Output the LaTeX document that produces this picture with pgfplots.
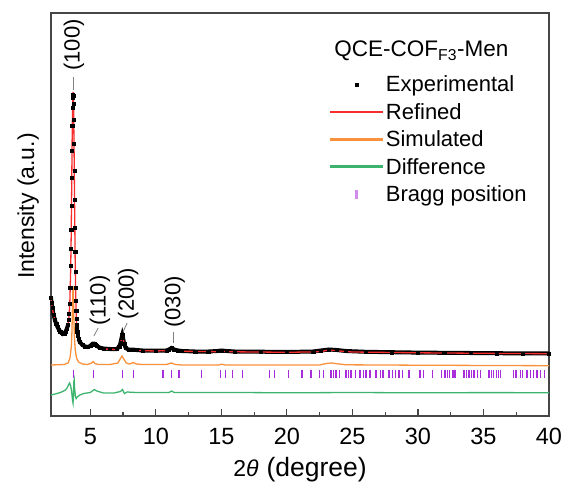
\documentclass[border=0pt]{standalone}
\usepackage{pgfplots}
\usepackage{pgfplotstable}
\usepackage{fontspec}
\setmainfont{Liberation Sans}
\pgfplotsset{compat=1.18}
\definecolor{framec}{RGB}{70,70,70}
\definecolor{refc}{RGB}{245,45,45}
\definecolor{simc}{RGB}{250,145,60}
\definecolor{difc}{RGB}{60,180,110}
\definecolor{bragc}{RGB}{170,45,220}

\pgfplotstableread{
x y
2.00 118
2.05 113
2.10 108
2.20 101
2.30 96
2.40 92
2.50 89
2.60 86.5
2.70 84.5
2.80 83
2.90 82
3.00 82.5
3.10 84
3.20 87
3.30 91
}\expA

\pgfplotstableread{
x y
2.00 118
2.05 113
2.10 108
2.20 101
2.30 96
2.40 92
2.50 89
2.60 86.5
2.70 84.5
2.80 83
2.90 82
3.00 82.5
3.10 84
3.20 87
3.30 91
3.34 96
3.38 102
3.42 112
3.46 128
3.50 150
3.52 167
3.54 186
3.56 210
3.58 238
3.60 265
3.62 290
3.64 308
3.66 318
3.68 321
3.70 320
3.72 312
3.74 296
3.76 272
3.78 245
3.80 216
3.82 188
3.84 164
3.86 144
3.88 128
3.90 115
3.92 105
3.94 97
3.96 91
3.98 87
4.00 84
4.05 80
4.10 77
4.20 74
4.40 71
4.60 69.5
4.80 69
5.00 70
5.10 71.5
5.20 72.5
5.30 72.5
5.40 71.5
5.50 70
5.70 68.5
6.00 67.5
6.50 67
7.00 67
7.20 69
7.30 73
7.38 78
7.44 81
7.50 78
7.58 72
7.70 68
7.90 66.5
8.20 66.5
8.50 66
9.00 65.5
10.00 65.5
10.80 65.5
11.00 66.5
11.20 68
11.40 66.5
11.70 65.5
12.00 65
13.00 64.5
14.00 64.5
14.70 65
15.00 65.5
15.40 65
16.00 64.5
18.00 64.3
20.00 64
22.00 64.5
22.60 65.5
23.20 66.5
23.80 66
24.50 65
26.00 64.2
28.00 63.8
30.00 63.4
32.00 63.2
34.00 63
36.00 62.8
38.00 62.6
40.00 62.5
}\expAll

\pgfplotstableread{
x y
4.10 77
4.20 74
4.40 71
4.60 69.5
4.80 69
5.00 70
5.10 71.5
5.20 72.5
5.30 72.5
5.40 71.5
5.50 70
5.70 68.5
6.00 67.5
6.50 67
7.00 67
7.20 69
7.30 73
7.38 78
7.44 81
7.50 78
7.58 72
7.70 68
7.90 66.5
8.20 66.5
8.50 66
9.00 65.5
10.00 65.5
10.80 65.5
11.00 66.5
11.20 68
11.40 66.5
11.70 65.5
12.00 65
13.00 64.5
14.00 64.5
14.70 65
15.00 65.5
15.40 65
16.00 64.5
18.00 64.3
20.00 64
22.00 64.5
22.60 65.5
23.20 66.5
23.80 66
24.50 65
26.00 64.2
28.00 63.8
30.00 63.4
32.00 63.2
34.00 63
36.00 62.8
38.00 62.6
40.00 62.5
}\expB

\pgfplotstableread{
x y
2.00 117
2.10 108
2.20 101
2.30 96
2.40 92
2.50 89
2.60 86.5
2.70 84.5
2.80 83
2.90 82
3.00 82.5
3.10 84
3.20 87
3.30 91
3.38 100
3.44 115
3.50 145
3.54 180
3.58 230
3.62 285
3.66 318
3.69 324
3.72 312
3.76 268
3.80 212
3.84 160
3.88 124
3.92 103
3.96 90
4.00 83
4.10 77
4.20 74
4.40 70.5
4.60 69
4.80 68.5
5.00 69.5
5.20 72
5.30 72
5.50 69.5
5.70 68
6.00 67
7.00 66.5
7.20 68.5
7.30 72.5
7.42 80
7.50 77
7.60 71
7.75 67
8.00 66
8.30 66.3
8.60 65.5
10.00 65
10.90 65.5
11.20 67.5
11.50 65.5
12.00 64.7
14.80 64.3
15.00 65
15.30 64.3
20.00 63.7
22.50 64.2
23.20 66
24.00 65
25.00 64
30.00 63.2
35.00 62.7
40.00 62.3
}\refined

\pgfplotstableread{
x y
2.00 51
3.00 51.5
3.30 53
3.45 58
3.55 69
3.60 85
3.64 110
3.68 130
3.71 122
3.74 100
3.78 80
3.85 66
3.95 58
4.10 54
4.40 52
4.80 51.5
5.10 53
5.22 54.5
5.35 52.5
5.60 51.5
6.50 51.5
7.10 53
7.30 57.5
7.42 60
7.55 57
7.75 53
8.00 52
8.30 53.5
8.50 52
9.00 51.5
10.80 51.5
11.18 53
11.50 51.5
12.00 51
14.80 51
15.00 51.8
15.30 51
22.50 51
23.00 52.5
23.40 53
23.80 52.3
24.50 51.2
30.00 50.8
40.00 50.3
}\simulated

\pgfplotstableread{
x y
2.00 21
2.30 22
2.60 23
2.90 24.5
3.10 26
3.25 28.5
3.35 31.5
3.42 33
3.50 30
3.58 24
3.64 16
3.68 13
3.71 20
3.74 34
3.77 36
3.80 28
3.86 20
3.92 17.5
4.00 19
4.20 21
4.50 22.5
5.00 23.5
5.30 26.5
5.50 25
6.00 23
6.80 23
7.30 24.5
7.45 26.5
7.60 22.5
7.80 24
8.50 23.5
11.00 23.5
11.20 25
11.40 23.5
15.00 23.6
20.00 23.2
25.00 23.5
30.00 23.2
35.00 23.4
40.00 23.3
}\difference

\pgfplotstableread{
x y
3.70 42
5.22 42
7.43 42
8.32 42
10.55 42
11.18 42
11.77 42
13.47 42
14.91 42
15.32 42
15.83 42
16.63 42
18.67 42
19.05 42
20.14 42
21.15 42
21.84 42
22.47 42
22.78 42
23.36 42
23.56 42
23.74 42
23.99 42
24.50 42
24.70 42
24.88 42
25.26 42
25.57 42
25.82 42
26.03 42
26.33 42
26.79 42
27.14 42
27.34 42
27.80 42
28.05 42
28.31 42
28.56 42
28.81 42
29.32 42
30.15 42
30.40 42
31.09 42
31.81 42
32.06 42
32.24 42
32.42 42
32.62 42
32.75 42
32.88 42
33.51 42
33.69 42
33.90 42
34.10 42
34.27 42
34.52 42
34.78 42
35.41 42
35.62 42
35.79 42
35.97 42
36.17 42
36.30 42
37.31 42
37.49 42
37.82 42
38.00 42
38.33 42
38.58 42
38.83 42
39.08 42
39.34 42
39.67 42
}\bragg

\begin{document}
\begin{tikzpicture}
\begin{axis}[
  at={(0pt,0pt)}, anchor=south west,
  scale only axis,
  width=498pt, height=403pt,
  xmin=2, xmax=40, ymin=0, ymax=403,
  axis line style={framec, line width=1.5pt},
  xtick={5,10,...,40},
  minor x tick num=1,
  xtick pos=bottom,
  ytick=\empty,
  tick align=inside,
  major tick length=7pt,
  minor tick length=4pt,
  every tick/.style={framec, line width=1.2pt},
  /pgf/number format/assume math mode=true,
  ticklabel style={font=\fontsize{23.5}{27}\selectfont},
  xticklabel style={yshift=-9pt},
  xlabel={{\fontsize{23}{27}\selectfont 2\textit{θ}}\hspace{0.3em}(degree)},
  ylabel={Intensity (a.u.)},
  label style={font=\fontsize{23}{27}\selectfont},
  xlabel style={font=\fontsize{26.5}{30}\selectfont, at={(axis description cs:0.5,-0.134)}, anchor=center},
  ylabel style={at={(axis description cs:-0.046,0.521)}, anchor=center},
  legend style={at={(axis description cs:0.559,0.852)}, anchor=north west,
    draw=none, fill=none, inner sep=0pt,
    font=\fontsize{22}{26}\selectfont, row sep=4pt,
    nodes={inner sep=3pt, anchor=west}},
  legend cell align=left,
]
\addplot[black, line width=4pt, forget plot] table[x=x,y=y] {\expA};
\addplot[black, line width=4pt, forget plot] table[x=x,y=y] {\expB};
\addplot[only marks, mark=square*, mark size=1.6pt, black,
  legend image code/.code={\fill[black] (24.5pt,-1.6pt) rectangle (27.7pt,1.6pt);}]
  table[x=x,y=y] {\expAll};
\addlegendentry{Experimental}
\addplot[refc, line width=1.3pt,
  legend image code/.code={\fill[refc] (0pt,-0.75pt) rectangle (52pt,0.75pt);}]
  table[x=x,y=y] {\refined};
\addlegendentry{Refined}
\addplot[simc, line width=1.3pt,
  legend image code/.code={\fill[simc] (0pt,-0.75pt) rectangle (52pt,0.75pt);}]
  table[x=x,y=y] {\simulated};
\addlegendentry{Simulated}
\addplot[difc, line width=1.3pt,
  legend image code/.code={\fill[difc] (0pt,-0.75pt) rectangle (52pt,0.75pt);}]
  table[x=x,y=y] {\difference};
\addlegendentry{Difference}
\addplot[only marks, mark=|, mark size=4pt, bragc, mark options={line width=1.3pt},
  legend image code/.code={\fill[bragc!55] (25.25pt,-4pt) rectangle (26.75pt,4pt);}]
  table[x=x,y=y] {\bragg};
\addlegendentry{Bragg position}

\node[anchor=base west, font=\fontsize{22.5}{26}\selectfont] at (axis cs:23.36,359.3) {QCE-COF\textsubscript{F3}-Men};

\node[rotate=90, font=\fontsize{22}{26}\selectfont] at (axis cs:3.75,371) {(100)};
\draw[gray, line width=0.8pt] (axis cs:3.70,339) -- (axis cs:3.70,326);
\node[rotate=90, font=\fontsize{22}{26}\selectfont] at (axis cs:5.73,115.5) {(110)};
\draw[gray, line width=0.8pt] (axis cs:5.60,88) -- (axis cs:5.27,80);
\node[rotate=90, font=\fontsize{22}{26}\selectfont] at (axis cs:7.88,122.5) {(200)};
\draw[gray, line width=0.8pt] (axis cs:7.81,93) -- (axis cs:7.50,84.3);
\node[rotate=90, font=\fontsize{22}{26}\selectfont] at (axis cs:11.44,114) {(030)};
\draw[gray, line width=0.8pt] (axis cs:11.31,84) -- (axis cs:11.31,73);
\end{axis}
\pgfresetboundingbox
\path (-51pt,-69pt) rectangle (516pt,416pt);
\end{tikzpicture}
\end{document}
